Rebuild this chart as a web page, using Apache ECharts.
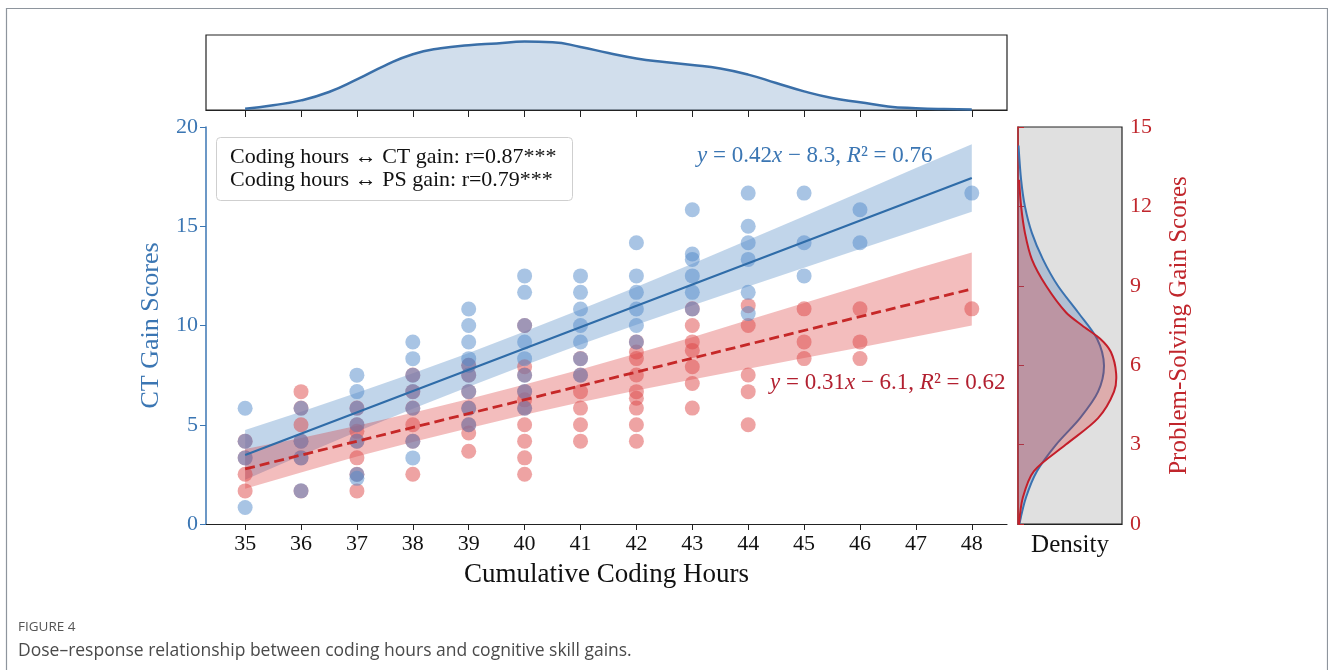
<!DOCTYPE html>
<html>
<head>
<meta charset="utf-8">
<script src="https://cdn.jsdelivr.net/npm/echarts@6/dist/echarts.min.js"></script>
<style>
  html, body { margin: 0; padding: 0; background: #fff; }
  #chart { width: 1328px; height: 670px; }
</style>
</head>
<body>
<div id="chart"></div>
<script>
// hours on the x axis
const hourTicks = [35, 36, 37, 38, 39, 40, 41, 42, 43, 44, 45, 46, 47, 48]

// CT gain per student [hours, score]
const ctPoints = [
  [35, 5.83], [35, 4.17], [35, 3.33], [35, 0.83],
  [36, 5.83], [36, 4.17], [36, 3.33], [36, 1.67],
  [37, 7.5], [37, 6.67], [37, 5.83], [37, 5.0], [37, 4.17], [37, 2.5], [37, 2.3],
  [38, 9.17], [38, 8.33], [38, 7.5], [38, 6.67], [38, 5.83], [38, 4.17], [38, 3.33],
  [39, 10.83], [39, 10.0], [39, 9.17], [39, 8.33], [39, 8.0], [39, 7.5], [39, 6.67], [39, 5.83], [39, 5.0],
  [40, 12.5], [40, 11.67], [40, 10.0], [40, 9.17], [40, 8.33], [40, 7.5], [40, 6.67], [40, 5.83],
  [41, 12.5], [41, 11.67], [41, 10.83], [41, 10.0], [41, 9.17], [41, 8.33], [41, 7.5],
  [42, 14.17], [42, 12.5], [42, 11.67], [42, 10.83], [42, 10.0], [42, 9.17],
  [43, 15.83], [43, 13.6], [43, 13.33], [43, 12.5], [43, 11.67], [43, 10.83],
  [44, 16.67], [44, 15.0], [44, 14.17], [44, 13.33], [44, 11.67], [44, 10.6],
  [45, 16.67], [45, 14.17], [45, 12.5],
  [46, 15.83], [46, 14.17],
  [48, 16.67]
]

// PS gain per student [hours, score]
const psPoints = [
  [35, 3.13], [35, 2.5], [35, 1.88], [35, 1.25],
  [36, 5.0], [36, 4.38], [36, 3.75], [36, 3.13], [36, 2.5], [36, 1.25],
  [37, 4.38], [37, 3.75], [37, 3.5], [37, 3.13], [37, 2.5], [37, 1.88], [37, 1.25],
  [38, 5.63], [38, 5.0], [38, 4.38], [38, 3.75], [38, 3.13], [38, 1.88],
  [39, 6.0], [39, 5.63], [39, 5.0], [39, 4.38], [39, 3.75], [39, 3.44], [39, 2.75],
  [40, 7.5], [40, 5.94], [40, 5.63], [40, 5.0], [40, 4.69], [40, 4.38], [40, 3.75], [40, 3.13], [40, 2.5], [40, 1.88],
  [41, 6.25], [41, 5.63], [41, 5.0], [41, 4.38], [41, 3.75], [41, 3.13],
  [42, 6.88], [42, 6.5], [42, 6.25], [42, 5.63], [42, 5.0], [42, 4.75], [42, 4.38], [42, 3.75], [42, 3.13],
  [43, 8.13], [43, 7.5], [43, 6.88], [43, 6.56], [43, 5.94], [43, 5.31], [43, 4.38],
  [44, 8.25], [44, 7.5], [44, 5.63], [44, 5.0], [44, 3.75],
  [45, 8.13], [45, 6.88], [45, 6.25],
  [46, 8.13], [46, 6.88], [46, 6.25],
  [48, 8.13]
]

// fitted lines and 95% bands
const ctLine = [[35, 3.48], [48, 17.43]]
const psLine = [[35, 2.08], [48, 8.88]]
const ctBandLow = [2.23, 3.45, 4.65, 5.8, 6.92, 8.0, 9.04, 10.04, 11.01, 11.97, 12.91, 13.85, 14.79, 15.73]
const ctBandHigh = [4.73, 5.65, 6.61, 7.6, 8.62, 9.7, 10.8, 11.94, 13.11, 14.31, 15.51, 16.71, 17.93, 19.13]
const psBandLow = [1.33, 1.95, 2.55, 3.1, 3.62, 4.13, 4.6, 5.04, 5.46, 5.87, 6.27, 6.67, 7.08, 7.5]
const psBandHigh = [2.83, 3.25, 3.71, 4.2, 4.72, 5.27, 5.84, 6.44, 7.06, 7.71, 8.35, 8.99, 9.64, 10.26]

// marginal density of coding hours (top)
const hoursKdeX = [35, 35.5, 36, 36.5, 37, 37.5, 38, 38.5, 39, 39.5, 40, 40.5, 41, 41.5, 42, 42.5, 43, 43.5, 44, 44.5, 45, 45.5, 46, 46.5, 47, 47.5, 48]
const hoursKdeY = [0.002, 0.008, 0.016, 0.03, 0.051, 0.074, 0.093, 0.103, 0.108, 0.111, 0.114, 0.113, 0.105, 0.095, 0.086, 0.08, 0.075, 0.069, 0.059, 0.045, 0.031, 0.02, 0.013, 0.006, 0.003, 0.0015, 0.001]

// marginal densities of gain scores (right)
const ctKdeScore = [0, 1, 2, 3, 4, 5, 6, 7, 8, 9, 10, 11, 12, 13, 14.3]
const ctKdeDens = [0.004, 0.023, 0.055, 0.11, 0.179, 0.231, 0.248, 0.228, 0.173, 0.115, 0.072, 0.04, 0.02, 0.009, 0.0015]
const psKdeScore = [0, 1, 2, 3, 4, 5, 5.7, 6.5, 7, 7.5, 8, 9, 10, 11, 12, 13]
const psKdeDens = [0.003, 0.014, 0.046, 0.138, 0.231, 0.277, 0.283, 0.268, 0.237, 0.185, 0.138, 0.081, 0.04, 0.02, 0.009, 0.003]

const serif = 'Liberation Serif'
const ctColor = '#3b76b3'
const psColor = '#c0262c'

const chart = echarts.init(document.getElementById('chart'))

function band(hours, low, high, fill) {
  return function (params, api) {
    const pts = []
    hours.forEach((h, i) => pts.push(api.coord([h, high[i]])))
    for (let i = hours.length - 1; i >= 0; i--) pts.push(api.coord([hours[i], low[i]]))
    return { type: 'polygon', shape: { points: pts }, style: { fill: fill } }
  }
}

function kde(scores, dens, fill, stroke) {
  return function (params, api) {
    const pts = scores.map((s, i) => api.coord([dens[i], s]))
    return {
      type: 'group',
      children: [
        { type: 'polygon', shape: { points: pts, smooth: 0.3 }, style: { fill: fill } },
        { type: 'polyline', shape: { points: pts, smooth: 0.3 }, style: { stroke: stroke, lineWidth: 2, fill: null } }
      ]
    }
  }
}

chart.setOption({
  animation: false,
  grid: [
    { left: 206, top: 127, width: 801, height: 397 },
    { left: 206, top: 35, width: 801, height: 75, show: true, borderColor: '#222', borderWidth: 1.2, backgroundColor: 'transparent' },
    { left: 1018, top: 127, width: 104, height: 397, show: true, borderColor: '#222', borderWidth: 1.2, backgroundColor: '#e0e0e0' }
  ],
  xAxis: [
    {
      gridIndex: 0, type: 'value', min: 34.3, max: 48.63,
      axisLine: { lineStyle: { color: '#222', width: 1.2 } },
      axisTick: { customValues: hourTicks, length: 6, lineStyle: { color: '#222' } },
      axisLabel: { customValues: hourTicks, color: '#111', fontSize: 22, fontFamily: serif, margin: 9 },
      splitLine: { show: false },
      name: 'Cumulative Coding Hours', nameLocation: 'middle', nameGap: 37,
      nameTextStyle: { color: '#111', fontSize: 27, fontFamily: serif }
    },
    {
      gridIndex: 1, type: 'value', min: 34.3, max: 48.63,
      axisLine: { lineStyle: { color: '#222', width: 1.2 } },
      axisTick: { customValues: hourTicks, length: 7, lineStyle: { color: '#222' } },
      axisLabel: { show: false },
      splitLine: { show: false }
    },
    {
      gridIndex: 2, type: 'value', min: 0, max: 0.3,
      axisLine: { lineStyle: { color: '#222', width: 1.2 } },
      axisTick: { show: false },
      axisLabel: { show: false },
      splitLine: { show: false },
      name: 'Density', nameLocation: 'middle', nameGap: 9,
      nameTextStyle: { color: '#111', fontSize: 25, fontFamily: serif }
    }
  ],
  yAxis: [
    {
      gridIndex: 0, type: 'value', min: 0, max: 20, interval: 5,
      axisLine: { show: true, lineStyle: { color: ctColor, width: 1.5 } },
      axisTick: { show: true, length: 6, lineStyle: { color: ctColor } },
      axisLabel: { color: ctColor, fontSize: 22, fontFamily: serif, margin: 8 },
      splitLine: { show: false },
      name: 'CT Gain Scores', nameLocation: 'middle', nameGap: 42,
      nameTextStyle: { color: ctColor, fontSize: 26, fontFamily: serif }
    },
    {
      gridIndex: 0, type: 'value', min: 0, max: 15, show: false
    },
    {
      gridIndex: 1, type: 'value', min: 0, max: 0.125, show: false
    },
    {
      gridIndex: 2, type: 'value', min: 0, max: 15, interval: 3, position: 'right',
      axisLine: { show: true, lineStyle: { color: psColor, width: 1.5 } },
      axisTick: { show: true, length: 6, lineStyle: { color: psColor } },
      axisLabel: { color: psColor, fontSize: 22, fontFamily: serif, margin: 8 },
      splitLine: { show: false },
      name: 'Problem-Solving Gain Scores', nameLocation: 'middle', nameGap: 45,
      nameTextStyle: { color: psColor, fontSize: 25, fontFamily: serif }
    }
  ],
  series: [
    {
      type: 'scatter', xAxisIndex: 0, yAxisIndex: 1, data: psPoints, symbolSize: 15,
      itemStyle: { color: '#dd4747', opacity: 0.5 }
    },
    {
      type: 'scatter', xAxisIndex: 0, yAxisIndex: 0, data: ctPoints, symbolSize: 15,
      itemStyle: { color: '#5189c9', opacity: 0.5 }
    },
    {
      type: 'custom', xAxisIndex: 0, yAxisIndex: 0, data: [0], silent: true,
      renderItem: band(hourTicks, ctBandLow, ctBandHigh, 'rgba(50,115,185,0.3)')
    },
    {
      type: 'custom', xAxisIndex: 0, yAxisIndex: 1, data: [0], silent: true,
      renderItem: band(hourTicks, psBandLow, psBandHigh, 'rgba(215,35,35,0.3)')
    },
    {
      type: 'line', xAxisIndex: 0, yAxisIndex: 0, data: ctLine, showSymbol: false,
      lineStyle: { color: '#2f6ca8', width: 2.2 }
    },
    {
      type: 'line', xAxisIndex: 0, yAxisIndex: 1, data: psLine, showSymbol: false,
      lineStyle: { color: '#c62828', width: 2.8, type: [10, 5] }
    },
    {
      type: 'line', xAxisIndex: 1, yAxisIndex: 2, smooth: true, showSymbol: false,
      data: hoursKdeX.map((h, i) => [h, hoursKdeY[i]]),
      lineStyle: { color: '#3a6fa8', width: 2.5 },
      areaStyle: { color: 'rgba(88,135,185,0.4)' }
    },
    {
      type: 'custom', xAxisIndex: 2, yAxisIndex: 3, data: [0], silent: true, clip: true,
      renderItem: kde(ctKdeScore, ctKdeDens, 'rgba(60,110,180,0.28)', '#3a72b0')
    },
    {
      type: 'custom', xAxisIndex: 2, yAxisIndex: 3, data: [0], silent: true, clip: true,
      renderItem: kde(psKdeScore, psKdeDens, 'rgba(215,40,40,0.28)', '#c41e2a')
    }
  ],
  graphic: [
    {
      type: 'rect', left: 4, top: 6, silent: true,
      shape: { width: 1321, height: 700 },
      style: { fill: 'none', stroke: '#8e959d', lineWidth: 1.2 }
    },
    {
      type: 'rect', left: 216, top: 137, silent: true,
      shape: { width: 356, height: 63, r: 4 },
      style: { fill: 'rgba(255,255,255,0.85)', stroke: '#cfcfcf', lineWidth: 1 }
    },
    {
      type: 'text', left: 230, top: 146,
      style: { text: 'Coding hours \u2194 CT gain: r=0.87***', fill: '#111', fontSize: 22, fontFamily: serif }
    },
    {
      type: 'text', left: 230, top: 169,
      style: { text: 'Coding hours \u2194 PS gain: r=0.79***', fill: '#111', fontSize: 22, fontFamily: serif }
    },
    {
      type: 'text', left: 697, top: 144,
      style: {
        text: '{i|y} = 0.42{i|x} \u2212 8.3, {i|R}\u00b2 = 0.76',
        fill: ctColor, fontSize: 23, fontFamily: serif,
        rich: { i: { fontStyle: 'italic', fill: ctColor, fontSize: 23, fontFamily: serif } }
      }
    },
    {
      type: 'text', left: 770, top: 371,
      style: {
        text: '{i|y} = 0.31{i|x} \u2212 6.1, {i|R}\u00b2 = 0.62',
        fill: '#b22030', fontSize: 23, fontFamily: serif,
        rich: { i: { fontStyle: 'italic', fill: '#b22030', fontSize: 23, fontFamily: serif } }
      }
    },
    {
      type: 'text', left: 18, top: 620,
      style: { text: 'FIGURE 4', fill: '#555', fontSize: 13.5, fontFamily: 'Open Sans' }
    },
    {
      type: 'text', left: 18, top: 642,
      style: { text: 'Dose\u2013response relationship between coding hours and cognitive skill gains.', fill: '#4a4a4a', fontSize: 17.5, fontFamily: 'Open Sans' }
    }
  ]
})
</script>
</body>
</html>
